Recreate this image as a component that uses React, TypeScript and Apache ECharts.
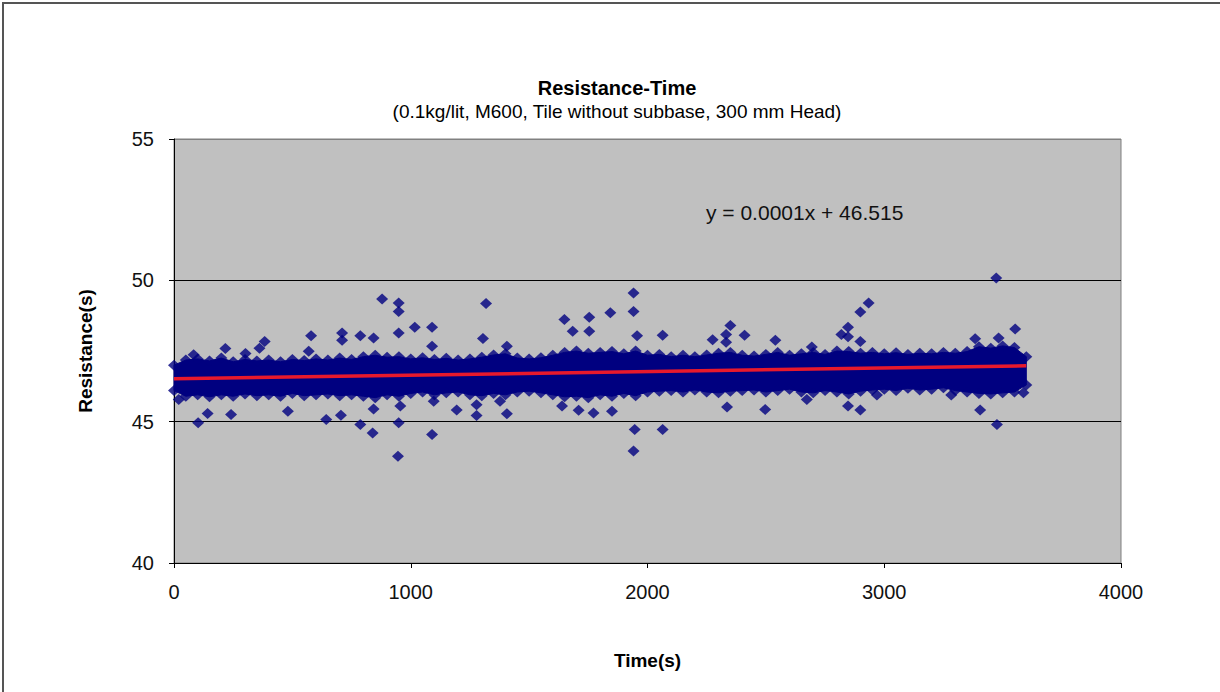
import React, { useEffect, useRef } from "react";
import * as echarts from "echarts";

// Axis ticks
const xTicks = [0, 1000, 2000, 3000, 4000];
const yTicks = [40, 45, 50, 55];

// Dense band of readings: envelope (marker centres) read every 50 s
const bandTime = [
  0, 50, 100, 150, 200, 250, 300, 350, 400, 450, 500, 550, 600, 650, 700, 750, 800, 850, 900, 950,
  1000, 1050, 1100, 1150, 1200, 1250, 1300, 1350, 1400, 1450, 1500, 1550, 1600, 1650, 1700, 1750,
  1800, 1850, 1900, 1950, 2000, 2050, 2100, 2150, 2200, 2250, 2300, 2350, 2400, 2450, 2500, 2550,
  2600, 2650, 2700, 2750, 2800, 2850, 2900, 2950, 3000, 3050, 3100, 3150, 3200, 3250, 3300, 3350,
  3400, 3450, 3500, 3550, 3600,
];
const bandUpper = [
  47.0, 47.18, 47.22, 47.15, 47.25, 47.12, 47.2, 47.15, 47.18, 47.12, 47.2, 47.16, 47.22, 47.18, 47.25, 47.2, 47.3, 47.35, 47.28, 47.3,
  47.22, 47.26, 47.2, 47.24, 47.18, 47.22, 47.28, 47.36, 47.4, 47.25, 47.22, 47.26, 47.35, 47.45, 47.5, 47.42,
  47.45, 47.48, 47.4, 47.5, 47.35, 47.38, 47.3, 47.35, 47.3, 47.36, 47.42, 47.45, 47.35, 47.32, 47.38, 47.45,
  47.35, 47.4, 47.45, 47.38, 47.5, 47.48, 47.42, 47.45, 47.4, 47.44, 47.38, 47.42, 47.4, 47.45, 47.42, 47.48,
  47.65, 47.6, 47.68, 47.62, 47.3,
];
const bandLower = [
  46.1, 45.9, 45.95, 45.88, 45.95, 45.9, 45.98, 45.92, 45.95, 45.9, 46.0, 45.92, 45.95, 45.98, 45.92, 45.95, 45.9, 45.85, 45.95, 45.9,
  46.0, 46.05, 45.95, 46.02, 46.05, 45.95, 45.92, 46.0, 45.95, 46.05, 46.08, 46.02, 45.95, 45.88, 45.9, 45.85,
  45.95, 45.9, 46.0, 45.92, 46.05, 46.08, 46.1, 46.05, 46.12, 46.05, 46.02, 46.08, 46.1, 46.12, 46.05, 46.1,
  46.15, 46.05, 46.02, 46.1, 46.05, 45.98, 46.08, 46.12, 46.15, 46.1, 46.18, 46.12, 46.15, 46.2, 46.1, 46.05,
  46.0, 45.98, 46.02, 46.05, 46.3,
];

// Scattered readings outside the band
const outlierTime = [
  879, 579, 710, 710, 787, 843, 383, 361, 217, 302, 83, 569,
  102, 142, 241, 481, 643, 705, 787, 839, 843, 20,
  949, 949, 1318, 1017, 1090, 1090, 949, 1305, 1649, 1684, 1754, 1754, 1406,
  949, 946, 1090, 956, 1097, 1194, 1278, 1278, 1406, 1377, 1639, 1709, 1772,
  1941, 1941, 1843, 1956, 2064, 2350, 2332, 2332, 2410, 2275, 2540, 2694,
  1946, 1941, 2064, 1850, 2336, 2497, 2673,
  3473, 2934, 2899, 2847, 2819, 2847, 2899, 3553, 3483, 3384,
  3476, 2847, 2899, 3405, 2969, 3283, 3588,
];
const outlierValue = [
  49.34, 48.04, 48.14, 47.88, 48.04, 47.96, 47.84, 47.6, 47.59, 47.41, 47.37, 47.49,
  44.96, 45.29, 45.25, 45.37, 45.08, 45.23, 44.9, 44.6, 45.45, 45.78,
  49.2, 48.9, 49.18, 48.34, 48.34, 47.67, 48.14, 47.94, 48.61, 48.2, 48.69, 48.2, 47.67,
  44.96, 43.78, 44.55, 45.55, 45.72, 45.41, 45.6, 45.22, 45.28, 45.72, 45.55, 45.4, 45.31,
  49.55, 48.9, 48.85, 48.04, 48.06, 48.4, 48.08, 47.81, 48.06, 47.9, 47.88, 47.64,
  44.72, 43.96, 44.72, 45.37, 45.52, 45.43, 45.78,
  50.08, 49.2, 48.88, 48.34, 48.08, 48.0, 47.84, 48.28, 47.96, 47.93,
  44.9, 45.55, 45.41, 45.41, 45.94, 45.94, 46.02,
];

// Linear trend line end points and its label
const trendTime = [0, 3600];
const trendValue = [46.515, 46.975];
const trendLabel = "y = 0.0001x + 46.515";

const FONT = "'Liberation Sans', Arial, sans-serif";
const NAVY = "#000080";

export default function App() {
  const ref = useRef<HTMLDivElement>(null);

  useEffect(() => {
    if (!ref.current) return;
    const chart = echarts.init(ref.current, undefined, { renderer: "svg" });

    const edgePoints = [
      ...bandTime.map((t, i) => [t, bandUpper[i]]),
      ...bandTime.map((t, i) => [t, bandLower[i]]),
    ];
    const outliers = outlierTime.map((t, i) => [t, outlierValue[i]]);

    const option: any = {
      animation: false,
      backgroundColor: "#ffffff",
      grid: {
        left: 174,
        top: 139,
        width: 947,
        height: 424,
        show: true,
        backgroundColor: "#c0c0c0",
        borderColor: "#808080",
        borderWidth: 1,
        containLabel: false,
        outerBoundsMode: "none",
      },
      xAxis: {
        type: "value",
        min: xTicks[0],
        max: xTicks[xTicks.length - 1],
        interval: 1000,
        name: "Time(s)",
        nameLocation: "middle",
        nameGap: 88,
        nameMoveOverlap: false,
        nameTextStyle: { fontFamily: FONT, fontSize: 19, fontWeight: "bold", color: "#000" },
        axisLine: { show: true, onZero: false, lineStyle: { color: "#000", width: 1 } },
        axisTick: { show: true, inside: false, length: 5, lineStyle: { color: "#000" } },
        axisLabel: {
          fontFamily: FONT,
          fontSize: 20,
          color: "#111",
          margin: 19,
          formatter: (v: number) => String(v),
        },
        splitLine: { show: false },
      },
      yAxis: {
        type: "value",
        min: yTicks[0],
        max: yTicks[yTicks.length - 1],
        interval: 5,
        name: "Resistance(s)",
        nameLocation: "middle",
        nameGap: 79,
        nameRotate: 90,
        nameMoveOverlap: false,
        nameTextStyle: { fontFamily: FONT, fontSize: 19, fontWeight: "bold", color: "#000" },
        axisLine: { show: true, onZero: false, lineStyle: { color: "#000", width: 1 } },
        axisTick: { show: true, inside: false, length: 5, lineStyle: { color: "#000" } },
        axisLabel: {
          fontFamily: FONT,
          fontSize: 20,
          color: "#111",
          margin: 20,
          formatter: (v: number) => String(v),
        },
        splitLine: {
          show: true,
          lineStyle: { color: ["#000000", "#000000", "#000000", "#808080"], width: 1 },
        },
      },
      graphic: [
        {
          type: "rect",
          silent: true,
          shape: { x: 3, y: 3, width: 1240, height: 720 },
          style: { fill: "none", stroke: "#555555", lineWidth: 2 },
          z: 100,
        },
        {
          type: "text",
          x: 617,
          y: 88,
          style: {
            text: "Resistance-Time",
            fontFamily: FONT,
            fontSize: 20,
            fontWeight: "bold",
            fill: "#000",
            align: "center",
            verticalAlign: "middle",
          },
        },
        {
          type: "text",
          x: 617,
          y: 111,
          style: {
            text: "(0.1kg/lit, M600, Tile without subbase, 300 mm Head)",
            fontFamily: FONT,
            fontSize: 19,
            fill: "#000",
            align: "center",
            verticalAlign: "middle",
          },
        },
        {
          type: "text",
          x: 706,
          y: 212,
          style: {
            text: trendLabel,
            fontFamily: FONT,
            fontSize: 21,
            fill: "#111",
            align: "left",
            verticalAlign: "middle",
          },
          z: 50,
        },
      ],
      series: [
        {
          type: "custom",
          coordinateSystem: "cartesian2d",
          silent: true,
          data: [[bandTime[0], bandLower[0]]],
          renderItem: (_params: any, api: any) => {
            const pts: number[][] = [];
            for (let i = 0; i < bandTime.length; i++) pts.push(api.coord([bandTime[i], bandUpper[i]]));
            for (let i = bandTime.length - 1; i >= 0; i--) pts.push(api.coord([bandTime[i], bandLower[i]]));
            return {
              type: "polygon",
              shape: { points: pts },
              style: { fill: NAVY, stroke: NAVY, lineWidth: 1 },
            };
          },
          z: 2,
        },
        {
          type: "scatter",
          symbol: "diamond",
          symbolSize: [12, 11],
          itemStyle: { color: NAVY },
          data: edgePoints,
          silent: true,
          z: 3,
        },
        {
          type: "scatter",
          symbol: "diamond",
          symbolSize: [12, 11],
          itemStyle: { color: NAVY },
          data: outliers,
          silent: true,
          z: 3,
        },
        {
          type: "line",
          data: trendTime.map((t, i) => [t, trendValue[i]]),
          symbol: "none",
          lineStyle: { color: "#e8192c", width: 3.5 },
          silent: true,
          z: 4,
        },
      ],
    };

    chart.setOption(option);
    return () => chart.dispose();
  }, []);

  return (
    <div
      ref={ref}
      style={{ position: "fixed", left: 0, top: 0, width: 1220, height: 692, background: "#fff" }}
    />
  );
}
